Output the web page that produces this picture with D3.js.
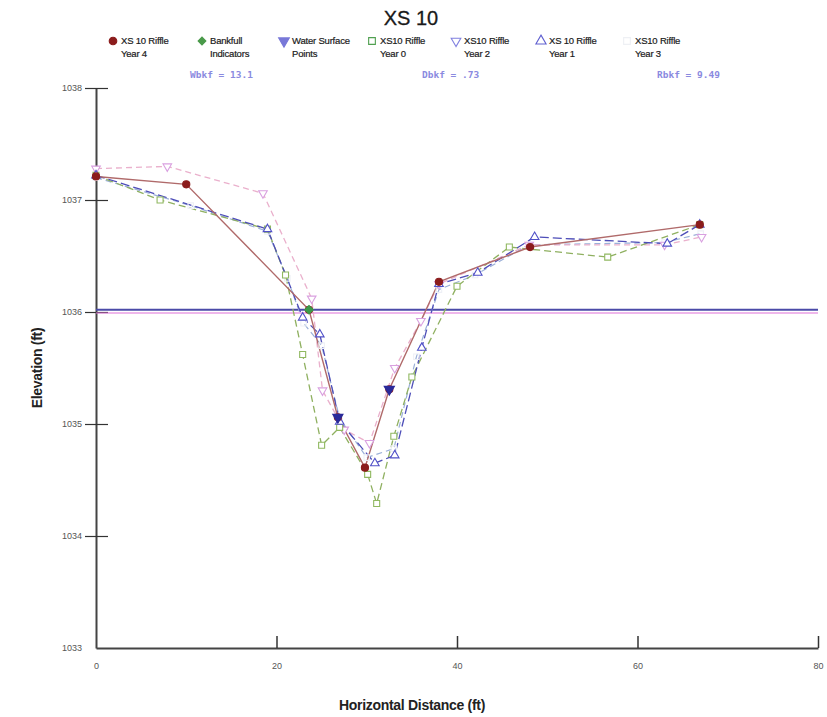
<!DOCTYPE html>
<html>
<head>
<meta charset="utf-8">
<script src="https://cdn.jsdelivr.net/npm/d3@7"></script>
<style>
	body { margin: 0; background: #fff; }
	svg text { font-family: "Liberation Sans", Arial, sans-serif; }
</style>
</head>
<body>
<div id="chart"></div>
<script>

// cross section survey, XS 10 riffle (station ft, elevation ft)
var year0 = [ [0,1037.22], [7.1,1037.0], [19,1036.74], [21,1036.33], [22.9,1035.62], [25,1034.81],
	[27,1034.97], [30.1,1034.55], [31.1,1034.29], [33,1034.89], [35,1035.42], [40,1036.23],
	[45.8,1036.58], [56.7,1036.49], [66.9,1036.78] ];

var year1 = [ [0,1037.22], [19,1036.74], [22.9,1035.95], [24.8,1035.8], [27,1035.02], [30.9,1034.65],
	[33.1,1034.72], [36.1,1035.68], [38,1036.25], [42.3,1036.35], [48.6,1036.67], [63.3,1036.61],
	[66.9,1036.78] ];

var year2 = [ [0,1037.28], [7.9,1037.3], [18.5,1037.06], [23.9,1036.12], [25.1,1035.3], [27.5,1034.95],
	[30.3,1034.83], [33.1,1035.5], [36,1035.92], [38,1036.25], [48,1036.6], [63,1036.6], [67.1,1036.67] ];

var year3 = [ [0,1037.2], [10.5,1036.95], [19,1036.72], [21.2,1036.3], [23,1035.9], [25,1035.7],
	[27,1035.05], [30,1034.7], [33,1034.78], [35.5,1035.6], [38,1036.2], [42,1036.33], [48,1036.6],
	[63,1036.62], [67,1036.7] ];

var year4 = [ [0,1037.21], [10,1037.14], [23.6,1036.02], [26.8,1035.06], [29.8,1034.61], [32.5,1035.31],
	[38,1036.27], [48.1,1036.58], [66.9,1036.78] ];

var bankfull     = [ [23.6,1036.02] ];
var waterSurface = [ [26.8,1035.06], [32.5,1035.31] ];

var bankfullElev = 1036.02;
var bankfullElev2 = 1036.0;

var xTicks = [0, 20, 40, 60, 80];
var yTicks = [1033, 1034, 1035, 1036, 1037, 1038];

var legendNames = [ ["XS 10 Riffle", "Year 4"], ["Bankfull", "Indicators"], ["Water Surface", "Points"],
	["XS10 Riffle", "Year 0"], ["XS10 Riffle", "Year 2"], ["XS 10 Riffle", "Year 1"], ["XS10 Riffle", "Year 3"] ];

var notes = [ "Wbkf = 13.1", "Dbkf = .73", "Rbkf = 9.49" ];


var width  = 827,
	height = 717;

var svg = d3.select("#chart")
	.append("svg")
	.attr("width", width)
	.attr("height", height);

var x = d3.scaleLinear().domain([0, 80]).range([96, 818]);
var y = d3.scaleLinear().domain([1033, 1038]).range([648, 88]);

var line = d3.line()
	.x(function(d) { return x(d[0]); })
	.y(function(d) { return y(d[1]); });

// title
svg.append("text")
	.attr("x", 411)
	.attr("y", 25)
	.attr("text-anchor", "middle")
	.style("font-size", "20px")
	.style("fill", "#1a1a1a")
	.style("stroke", "#1a1a1a")
	.style("stroke-width", 0.3)
	.text("XS 10");

// axes
var yAxis = d3.axisLeft(y)
	.tickValues(yTicks)
	.tickSize(0)
	.tickPadding(14)
	.tickFormat(d3.format("d"));

var gy = svg.append("g")
	.attr("transform", "translate(96,0)")
	.call(yAxis);

gy.select(".domain").attr("stroke", "#444").attr("stroke-width", 2);
gy.selectAll(".tick text")
	.style("font-size", "9px")
	.style("fill", "#555");
gy.selectAll(".tick")
	.filter(function(d) { return d > 1033; })
	.append("line")
	.attr("x1", -11)
	.attr("x2", 12)
	.attr("stroke", "#333")
	.attr("stroke-width", 1.2);

var xAxis = d3.axisBottom(x)
	.tickValues(xTicks)
	.tickSize(0)
	.tickPadding(15);

var gx = svg.append("g")
	.attr("transform", "translate(0,648)")
	.call(xAxis);

gx.select(".domain").attr("stroke", "#444").attr("stroke-width", 2);
gx.selectAll(".tick text")
	.style("font-size", "9px")
	.style("fill", "#555");
gx.selectAll(".tick")
	.filter(function(d) { return d > 0; })
	.append("line")
	.attr("y1", 0)
	.attr("y2", -12)
	.attr("stroke", "#333")
	.attr("stroke-width", 1.5);

svg.append("text")
	.attr("transform", "translate(42,368) rotate(-90)")
	.attr("text-anchor", "middle")
	.style("font-size", "14px")
	.style("font-weight", "bold")
	.style("letter-spacing", "-0.3px")
	.style("fill", "#222")
	.text("Elevation (ft)");

svg.append("text")
	.attr("x", 412)
	.attr("y", 710)
	.attr("text-anchor", "middle")
	.style("font-size", "14px")
	.style("font-weight", "bold")
	.style("letter-spacing", "-0.3px")
	.style("fill", "#222")
	.text("Horizontal Distance (ft)");

// bankfull lines
svg.append("line")
	.attr("x1", x(0))
	.attr("x2", x(80))
	.attr("y1", y(bankfullElev2) + 1)
	.attr("y2", y(bankfullElev2) + 1)
	.attr("stroke", "#e070d8")
	.attr("stroke-width", 1.2);

svg.append("line")
	.attr("x1", x(0))
	.attr("x2", x(80))
	.attr("y1", y(bankfullElev))
	.attr("y2", y(bankfullElev))
	.attr("stroke", "#4a4aa8")
	.attr("stroke-width", 1.8);

// series lines
var series = [
	{ data: year3, color: "#9bb0d8", dash: "6,4",  width: 1.2 },
	{ data: year2, color: "#eab0cc", dash: "6,4",  width: 1.3 },
	{ data: year0, color: "#8fb060", dash: "7,4",  width: 1.3 },
	{ data: year1, color: "#4d4db8", dash: "9,4",  width: 1.3 },
	{ data: year4, color: "#b06a6a", dash: null,   width: 1.4 }
];

series.forEach(function(s) {
	svg.append("path")
		.datum(s.data)
		.attr("d", line)
		.attr("fill", "none")
		.attr("stroke", s.color)
		.attr("stroke-width", s.width)
		.attr("stroke-dasharray", s.dash);
});

// markers
function marker(g, type, size, fill, stroke) {
	var sym = {
		circle:  d3.symbolCircle,
		diamond: d3.symbolSquare,
		square:  d3.symbolSquare,
		tri:     d3.symbolTriangle,
		tridown: d3.symbolTriangle
	};
	var p = g.append("path")
		.attr("d", d3.symbol().type(sym[type]).size(size))
		.attr("fill", fill)
		.attr("stroke", stroke)
		.attr("stroke-width", 1.1);
	if (type === "tridown") p.attr("transform", "rotate(180)");
	if (type === "diamond") p.attr("transform", "rotate(45)");
	return p;
}

function points(data, type, size, fill, stroke) {
	data.forEach(function(d) {
		var g = svg.append("g")
			.attr("transform", "translate(" + x(d[0]) + "," + y(d[1]) + ")");
		marker(g, type, size, fill, stroke);
	});
}

points(year3, "square", 30, "none", "#eef0f6");
points(year2, "tridown", 32, "#fff", "#d9a0e0");
points(year0, "square", 36, "#fff", "#90b860");
points(year1, "tri", 32, "#fff", "#5050c8");
points(year4, "circle", 40, "#8b1c1c", "#8b1c1c");
points(waterSurface, "tridown", 45, "#2a2a9a", "#2a2a9a");
points(bankfull, "diamond", 36, "#3c9a4a", "#3c9a4a");

// legend
var legendMarks = [
	{ type: "circle",  size: 45, fill: "#8b1c1c", stroke: "#8b1c1c", x: 113 },
	{ type: "diamond", size: 30, fill: "#4a9a4a", stroke: "#4a9a4a", x: 202 },
	{ type: "tridown", size: 50, fill: "#7878d8", stroke: "#7878d8", x: 284 },
	{ type: "square",  size: 45, fill: "#fff",    stroke: "#50a050", x: 372 },
	{ type: "tridown", size: 40, fill: "#fff",    stroke: "#8080e0", x: 456 },
	{ type: "tri",     size: 45, fill: "#fff",    stroke: "#6060d0", x: 541 },
	{ type: "square",  size: 45, fill: "#fff",    stroke: "#eef0f4", x: 627 }
];

legendMarks.forEach(function(m, i) {
	var g = svg.append("g")
		.attr("transform", "translate(" + m.x + ",41)");
	marker(g, m.type, m.size, m.fill, m.stroke);

	var t = svg.append("text")
		.attr("x", m.x + 8)
		.attr("y", 44)
		.style("font-size", "9.5px")
		.style("fill", "#1a1a1a")
		.style("stroke", "#1a1a1a")
		.style("stroke-width", 0.2)
		.style("letter-spacing", "-0.2px");
	t.append("tspan").text(legendNames[i][0]);
	t.append("tspan")
		.attr("x", m.x + 8)
		.attr("dy", 13)
		.text(legendNames[i][1]);
});

// bankfull dimension notes
var noteX = [190, 422, 657];
notes.forEach(function(n, i) {
	svg.append("text")
		.attr("x", noteX[i])
		.attr("y", 78)
		.style("font-family", "'DejaVu Sans Mono', monospace")
		.style("font-size", "9.5px")
		.style("font-weight", "bold")
		.style("fill", "#8a8ae0")
		.text(n);
});

</script>
</body>
</html>
